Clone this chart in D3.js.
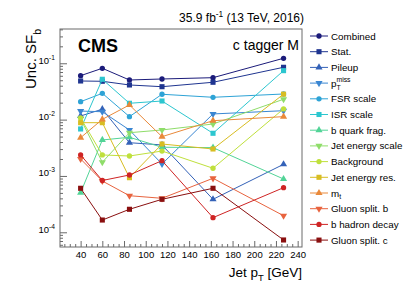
<!DOCTYPE html>
<meta charset="utf-8">
<title>c tagger M uncertainties</title>
<style>
body { margin: 0; background: #fff; font-family: 'Liberation Sans', Arial, sans-serif; }
svg { display: block; }
.axis path { display: none; }
.axis line { stroke: #6a6a6a; }
.axis text { font-family: 'Liberation Sans', Arial, sans-serif; fill: #000; }
</style>
<svg id="chart" width="407" height="293"></svg>
<script src="https://d3js.org/d3.v7.min.js"></script>
<script>
// jet pT bin centres [GeV]
var ptBins = [40, 60, 85, 115, 162, 227];

// uncertainty on SF_b per source
var combined     = [0.0603, 0.0815, 0.0505, 0.0526, 0.0555, 0.1227];
var stat         = [0.0485, 0.0479, 0.0412, 0.0384, 0.0460, 0.0849];
var pileup       = [0.0116, 0.0153, 0.00389, 0.00355, 0.000385, 0.00161];
var ptmiss       = [0.0142, 0.0138, 0.00655, 0.00163, 0.0126, 0.0144];
var fsrScale     = [0.0208, 0.0293, 0.0113, 0.0282, 0.0249, 0.0285];
var isrScale     = [0.00682, 0.0520, 0.0195, 0.0214, 0.00572, 0.0740];
var bQuarkFrag   = [0.000505, 0.00435, 0.00486, 0.00323, 0.00318, 0.000883];
var jetEnScale   = [0.0103, 0.00175, 0.00586, 0.00655, 0.00836, 0.0230];
var background   = [0.0107, 0.00236, 0.00226, 0.00277, 0.00137, 0.0155];
var jetEnRes     = [0.00882, 0.00882, 0.000931, 0.00369, 0.00301, 0.0283];
var topMass      = [0.00478, 0.0101, 0.0182, 0.00498, 0.00957, 0.0113];
var gluonSplitB  = [0.0020, 0.000814, 0.000446, 0.000401, 0.000909, 0.000197];
var bHadronDecay = [0.00236, 0.00083, 0.00104, 0.00187, 0.000182, 0.000619];
var gluonSplitC  = [0.000604, 0.000165, 0.000256, 0.000385, 0.000604, 0.000073];

var labels = ["Combined", "Stat.", "Pileup", "p_{T}^{miss}", "FSR scale", "ISR scale",
  "b quark frag.", "Jet energy scale", "Background", "Jet energy res.", "m_{t}",
  "Gluon split. b", "b hadron decay", "Gluon split. c"];
var values = [combined, stat, pileup, ptmiss, fsrScale, isrScale, bQuarkFrag, jetEnScale,
  background, jetEnRes, topMass, gluonSplitB, bHadronDecay, gluonSplitC];
var colors = ["#1b1b7a", "#1f3590", "#3462b8", "#3a86d2", "#2ea3d6", "#2cc6cf",
  "#52d497", "#8fdd6a", "#bfe03c", "#d8bd22", "#e9893a", "#e8633e", "#cf2424", "#8a0f0f"];
var shapes = ["circle", "square", "up", "down"];

var xTicks = [40, 60, 80, 100, 120, 140, 160, 180, 200, 220, 240];
var yTicks = [1e-4, 1e-3, 1e-2, 1e-1];

var svg = d3.select("#chart"),
    fx0 = 60, fx1 = 302, fy0 = 29, fy1 = 247;

var x = d3.scaleLinear().domain([21, 244]).range([fx0, fx1]);
var y = d3.scaleLog().domain([5.48e-5, 0.406]).range([fy1, fy0]);

// text with ROOT style _{} and ^{}
function rich(sel, str, fs) {
  var parts = str.split(/([_^]\{[^}]*\})/).filter(function(s) { return s.length; });
  var shift = 0, prevSub = null;
  parts.forEach(function(p) {
    var t = sel.append("tspan");
    if (p[0] === "_" || p[0] === "^") {
      var sub = p[0] === "_";
      var off = sub ? 0.3 * fs : -0.42 * fs;
      t.attr("font-size", fs * 0.7).attr("dy", off - shift).text(p.slice(2, -1));
      if (!sub && prevSub) t.attr("dx", -prevSub.node().getComputedTextLength());
      shift = off;
      prevSub = sub ? t : null;
    } else {
      t.attr("dy", -shift).text(p);
      shift = 0; prevSub = null;
    }
  });
}

// frame
svg.append("rect")
    .attr("x", fx0).attr("y", fy0)
    .attr("width", fx1 - fx0).attr("height", fy1 - fy0)
    .attr("fill", "none").attr("stroke", "#6a6a6a").attr("stroke-width", 1);

// x axis: minor every 5, major every 20
var xMinor = d3.range(25, 245, 5).filter(function(v) { return v % 20 !== 0; });
svg.append("g").attr("class", "axis")
    .attr("transform", "translate(0," + fy1 + ")")
    .call(d3.axisBottom(x).tickValues(xMinor).tickSize(-3).tickFormat(""));
var gx = svg.append("g").attr("class", "axis")
    .attr("transform", "translate(0," + fy1 + ")")
    .call(d3.axisBottom(x).tickValues(xTicks).tickSize(-6).tickPadding(4));
gx.selectAll("text").attr("font-size", 9.5);

// y axis: log, minor ticks 2..9
var yMinor = [];
[1e-5, 1e-4, 1e-3, 1e-2, 1e-1].forEach(function(d) {
  for (var k = 2; k <= 9; k++) if (d * k > 5.48e-5 && d * k < 0.406) yMinor.push(d * k);
});
svg.append("g").attr("class", "axis")
    .attr("transform", "translate(" + fx0 + ",0)")
    .call(d3.axisLeft(y).tickValues(yMinor).tickSize(-3).tickFormat(""));
var gy = svg.append("g").attr("class", "axis")
    .attr("transform", "translate(" + fx0 + ",0)")
    .call(d3.axisLeft(y).tickValues(yTicks).tickSize(-7).tickPadding(5).tickFormat(""));
gy.selectAll(".tick text").each(function(d) {
  var t = d3.select(this).attr("font-size", 9.5).attr("dy", "0.32em");
  rich(t, "10^{" + Math.round(Math.log10(d)) + "}", 9.5);
});

// axis titles
var yt = svg.append("text")
    .attr("transform", "translate(36," + fy0 + ") rotate(-90)")
    .attr("text-anchor", "end")
    .attr("font-size", 15);
rich(yt, "Unc. SF_{b}", 15);

var xt = svg.append("text")
    .attr("x", fx1).attr("y", 277)
    .attr("text-anchor", "end")
    .attr("font-size", 13.5);
rich(xt, "Jet p_{T} [GeV]", 13.5);

// header texts
var lumi = svg.append("text")
    .attr("x", fx1 + 2).attr("y", 22)
    .attr("text-anchor", "end")
    .attr("font-size", 12);
rich(lumi, "35.9 fb^{-1} (13 TeV, 2016)", 12);

svg.append("text")
    .attr("x", 78).attr("y", 51.5)
    .attr("font-size", 18).attr("font-weight", "bold")
    .text("CMS");

svg.append("text")
    .attr("x", fx1 - 3).attr("y", 50)
    .attr("text-anchor", "end")
    .attr("font-size", 14)
    .text("c tagger M");

function marker(kind) {
  if (kind === "circle") return d3.symbol().type(d3.symbolCircle).size(22)();
  if (kind === "square") return d3.symbol().type(d3.symbolSquare).size(26)();
  return d3.symbol().type(d3.symbolTriangle).size(22)();
}

var line = d3.line()
    .x(function(d, i) { return x(ptBins[i]); })
    .y(function(d) { return y(d); });

var plot = svg.append("g");
values.forEach(function(vals, s) {
  var kind = shapes[s % 4];
  plot.append("path")
      .attr("d", line(vals))
      .attr("fill", "none")
      .attr("stroke", colors[s])
      .attr("stroke-width", 1);
  plot.selectAll(".m" + s)
    .data(vals)
    .enter().append("path")
      .attr("class", "m" + s)
      .attr("d", marker(kind))
      .attr("fill", colors[s])
      .attr("transform", function(d, i) {
        return "translate(" + x(ptBins[i]) + "," + y(d) + ")" + (kind === "down" ? " rotate(180)" : "");
      });
});

// legend
var legStep = 15.7;
var leg = svg.append("g").attr("transform", "translate(310,36)");
labels.forEach(function(lab, s) {
  var kind = shapes[s % 4];
  var row = leg.append("g").attr("transform", "translate(0," + (s * legStep) + ")");
  row.append("line").attr("x1", 0).attr("x2", 18).attr("y1", 0).attr("y2", 0)
      .attr("stroke", colors[s]).attr("stroke-width", 1);
  row.append("path").attr("d", marker(kind)).attr("fill", colors[s])
      .attr("transform", "translate(9,0)" + (kind === "down" ? " rotate(180)" : ""));
  var t = row.append("text").attr("x", 21).attr("y", 3.5).attr("font-size", 9.8);
  rich(t, lab, 9.8);
});
</script>
